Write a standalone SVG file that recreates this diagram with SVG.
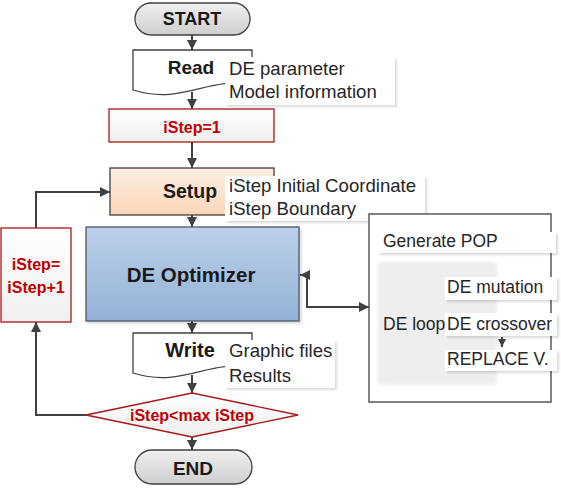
<svg xmlns="http://www.w3.org/2000/svg" width="561" height="490" viewBox="0 0 561 490">
<defs>
<linearGradient id="gGray" x1="0" y1="0" x2="0" y2="1"><stop offset="0" stop-color="#f0f0f0"/><stop offset="1" stop-color="#cfcfcf"/></linearGradient>
<linearGradient id="gWhite" x1="0" y1="0" x2="0" y2="1"><stop offset="0" stop-color="#ffffff"/><stop offset="1" stop-color="#efefef"/></linearGradient>
<linearGradient id="gPeach" x1="0" y1="0" x2="0" y2="1"><stop offset="0" stop-color="#fdeee2"/><stop offset="1" stop-color="#fbd6b8"/></linearGradient>
<linearGradient id="gBlue" x1="0" y1="0" x2="0" y2="1"><stop offset="0" stop-color="#bcd0e8"/><stop offset="1" stop-color="#93b2d6"/></linearGradient>
<filter id="sh" x="-10%" y="-20%" width="130%" height="160%"><feDropShadow dx="2" dy="2" stdDeviation="1.2" flood-color="#000" flood-opacity="0.14"/></filter>
<filter id="soft" x="-10%" y="-10%" width="120%" height="120%"><feGaussianBlur stdDeviation="1.5"/></filter>
<marker id="ah" markerUnits="userSpaceOnUse" markerWidth="11" markerHeight="10" refX="10" refY="5" orient="auto-start-reverse"><path d="M0,0 L10,5 L0,10 z" fill="#404040"/></marker>
<marker id="ahs" markerUnits="userSpaceOnUse" markerWidth="9" markerHeight="8" refX="8" refY="4" orient="auto"><path d="M0,0 L8,4 L0,8 z" fill="#404040"/></marker>
</defs>
<style>
.t{font-family:"Liberation Sans",Arial,sans-serif;font-size:18.6px;fill:#262626}
.p{font-family:"Liberation Sans",Arial,sans-serif;font-size:17.5px;fill:#262626}
.b{font-family:"Liberation Sans",Arial,sans-serif;font-weight:bold;fill:#1a1a1a;text-anchor:middle}
.r{font-family:"Liberation Sans",Arial,sans-serif;font-weight:bold;font-size:16px;fill:#c00000;text-anchor:middle}
.ln{fill:none;stroke:#404040;stroke-width:2}
.lb{fill:#fff;filter:url(#sh)}
.node{stroke:#404040;stroke-width:1.3}
.red{stroke:#a81818;stroke-width:1.3}
</style>

<g id="connectors">
<path class="ln" d="M192,35 V50" marker-end="url(#ah)"/>
<path class="ln" d="M192,92 V109" marker-end="url(#ah)"/>
<path class="ln" d="M192,142 V168" marker-end="url(#ah)"/>
<path class="ln" d="M192,215 V227" marker-end="url(#ah)"/>
<path class="ln" d="M192,321 V333" marker-end="url(#ah)"/>
<path class="ln" d="M192,375 V393" marker-end="url(#ah)"/>
<path class="ln" d="M192,437 V450" marker-end="url(#ah)"/>
<path class="ln" d="M86,415 H36 V322" marker-end="url(#ah)"/>
<path class="ln" d="M36,228 V192 H110" marker-end="url(#ah)"/>
<path class="ln" d="M300,275 H307 V307 H369" marker-start="url(#ah)" marker-end="url(#ah)"/>
</g>

<g id="start">
<rect class="node" x="135" y="3" width="115" height="32" rx="16" fill="url(#gGray)"/>
<text class="b" x="192" y="25" font-size="18">START</text>
</g>

<g id="read">
<path class="node" d="M133,50 H252 V86 C210,74 185,106 133,90 Z" fill="#fff"/>
<rect class="lb" x="225" y="57" width="170" height="48"/>
<text class="b" x="191" y="74" font-size="19">Read</text>
<text class="t" x="229" y="75">DE parameter</text>
<text class="t" x="229" y="98">Model information</text>
</g>

<g id="istep1">
<rect class="red" x="109" y="109" width="165" height="33" fill="url(#gWhite)"/>
<text class="r" x="192" y="133">iStep=1</text>
</g>

<g id="setup">
<rect class="node" x="110" y="168" width="164" height="47" fill="url(#gPeach)"/>
<rect class="lb" x="225" y="176" width="200" height="45"/>
<text class="b" x="190" y="198" font-size="19.5">Setup</text>
<text class="t" x="229" y="192">iStep Initial Coordinate</text>
<text class="t" x="229" y="215">iStep Boundary</text>
</g>

<g id="de-optimizer">
<rect x="86" y="227" width="213" height="94" fill="url(#gBlue)" stroke="#4a5868" stroke-width="1.3" filter="url(#sh)"/>
<text class="b" x="191" y="282" font-size="20.5" fill="#16202c">DE Optimizer</text>
</g>

<g id="write">
<path class="node" d="M133,333 H252 V369 C210,357 185,389 133,373 Z" fill="#fff"/>
<rect class="lb" x="225" y="340" width="110" height="48"/>
<text class="b" x="190" y="357" font-size="20">Write</text>
<text class="t" x="229" y="357">Graphic files</text>
<text class="t" x="229" y="382">Results</text>
</g>

<g id="condition">
<path class="red" d="M192,393 L298,415 L192,437 L86,415 Z" fill="url(#gWhite)"/>
<text class="r" x="192" y="421">iStep&lt;max iStep</text>
</g>

<g id="end">
<rect class="node" x="135" y="450" width="117" height="34" rx="17" fill="url(#gGray)"/>
<text class="b" x="193" y="475" font-size="19">END</text>
</g>

<g id="increment">
<rect class="red" x="1" y="228" width="70" height="94" fill="url(#gWhite)"/>
<text class="r" x="36" y="270">iStep=</text>
<text class="r" x="36" y="293">iStep+1</text>
</g>

<g id="de-loop-panel">
<rect x="369" y="214" width="182" height="188" fill="#fff" stroke="#404040" stroke-width="1.3"/>
<rect x="378" y="262" width="119" height="123" rx="4" fill="#eeeeee" filter="url(#soft)"/>
<rect class="lb" x="378" y="232" width="178" height="21"/>
<rect class="lb" x="445" y="277" width="112" height="23"/>
<rect class="lb" x="445" y="313" width="112" height="23"/>
<rect class="lb" x="445" y="350" width="112" height="21"/>
<text class="p" x="383" y="247">Generate POP</text>
<text class="p" x="447" y="293">DE mutation</text>
<text class="p" x="383" y="330">DE loop</text>
<text class="p" x="447" y="330">DE crossover</text>
<path class="ln" d="M502,337 V347" marker-end="url(#ahs)"/>
<text class="p" x="447" y="365">REPLACE V.</text>
</g>
</svg>
